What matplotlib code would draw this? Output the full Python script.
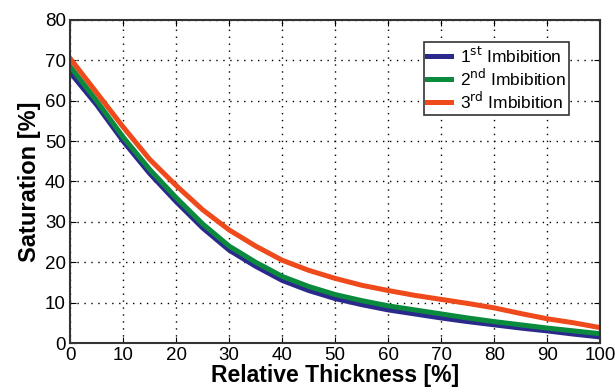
import numpy as np
import matplotlib.pyplot as plt

plt.rcParams['font.family'] = ['Liberation Sans', 'DejaVu Sans']

thickness = [0, 5, 10, 15, 20, 25, 30, 35, 40, 45, 50, 55, 60, 65, 70, 75, 80, 85, 90, 95, 100]
imb1 = [67, 59, 50, 42, 35, 28.5, 23, 19, 15.5, 13, 11, 9.5, 8.2, 7.2, 6.2, 5.3, 4.5, 3.7, 3.0, 2.2, 1.5]
imb2 = [68.5, 60, 51, 43, 36, 29.5, 24, 20, 16.5, 14, 12, 10.5, 9.2, 8.2, 7.2, 6.2, 5.3, 4.5, 3.7, 3.0, 2.3]
imb3 = [70.5, 62, 53.5, 45.5, 39, 33, 28, 24, 20.5, 18, 16, 14.3, 13, 11.8, 10.8, 9.8, 8.7, 7.3, 6.0, 5.0, 3.8]

fig, ax = plt.subplots(figsize=(6.15, 3.92), dpi=100)
fig.subplots_adjust(left=0.114, right=0.976, top=0.949, bottom=0.125)

ax.plot(thickness, imb1, color='#2b2a8c', lw=3.6, solid_joinstyle='round', label='1$^{\\mathrm{st}}$ Imbibition')
ax.plot(thickness, imb2, color='#0a8a3c', lw=3.6, solid_joinstyle='round', label='2$^{\\mathrm{nd}}$ Imbibition')
ax.plot(thickness, imb3, color='#ee4a1c', lw=3.6, solid_joinstyle='round', label='3$^{\\mathrm{rd}}$ Imbibition')

ax.set_xlim(0, 100)
ax.set_ylim(0, 80)
ax.set_xticks(range(0, 101, 10))
ax.set_yticks(range(0, 81, 10))
ax.grid(True, color='black', linestyle=(0, (1, 4)), linewidth=1.0)
ax.tick_params(labelsize=13.5, direction='in', length=4, pad=3, top=True, right=True)
for s in ax.spines.values():
    s.set_linewidth(1.5)
    s.set_color('#333333')

ax.set_xlabel('Relative Thickness [%]', fontsize=16.5, fontweight='bold', labelpad=0)
ax.set_ylabel('Saturation [%]', fontsize=17, fontweight='bold', labelpad=3)

leg = ax.legend(loc='upper right', bbox_to_anchor=(0.942, 0.932), fontsize=12.5, fancybox=False,
                edgecolor='#333333', framealpha=1, handlelength=1.4, handletextpad=0.5,
                borderpad=0.2, labelspacing=0.1, borderaxespad=0)
leg.get_frame().set_linewidth(1.2)

plt.savefig('out.png', dpi=100)
